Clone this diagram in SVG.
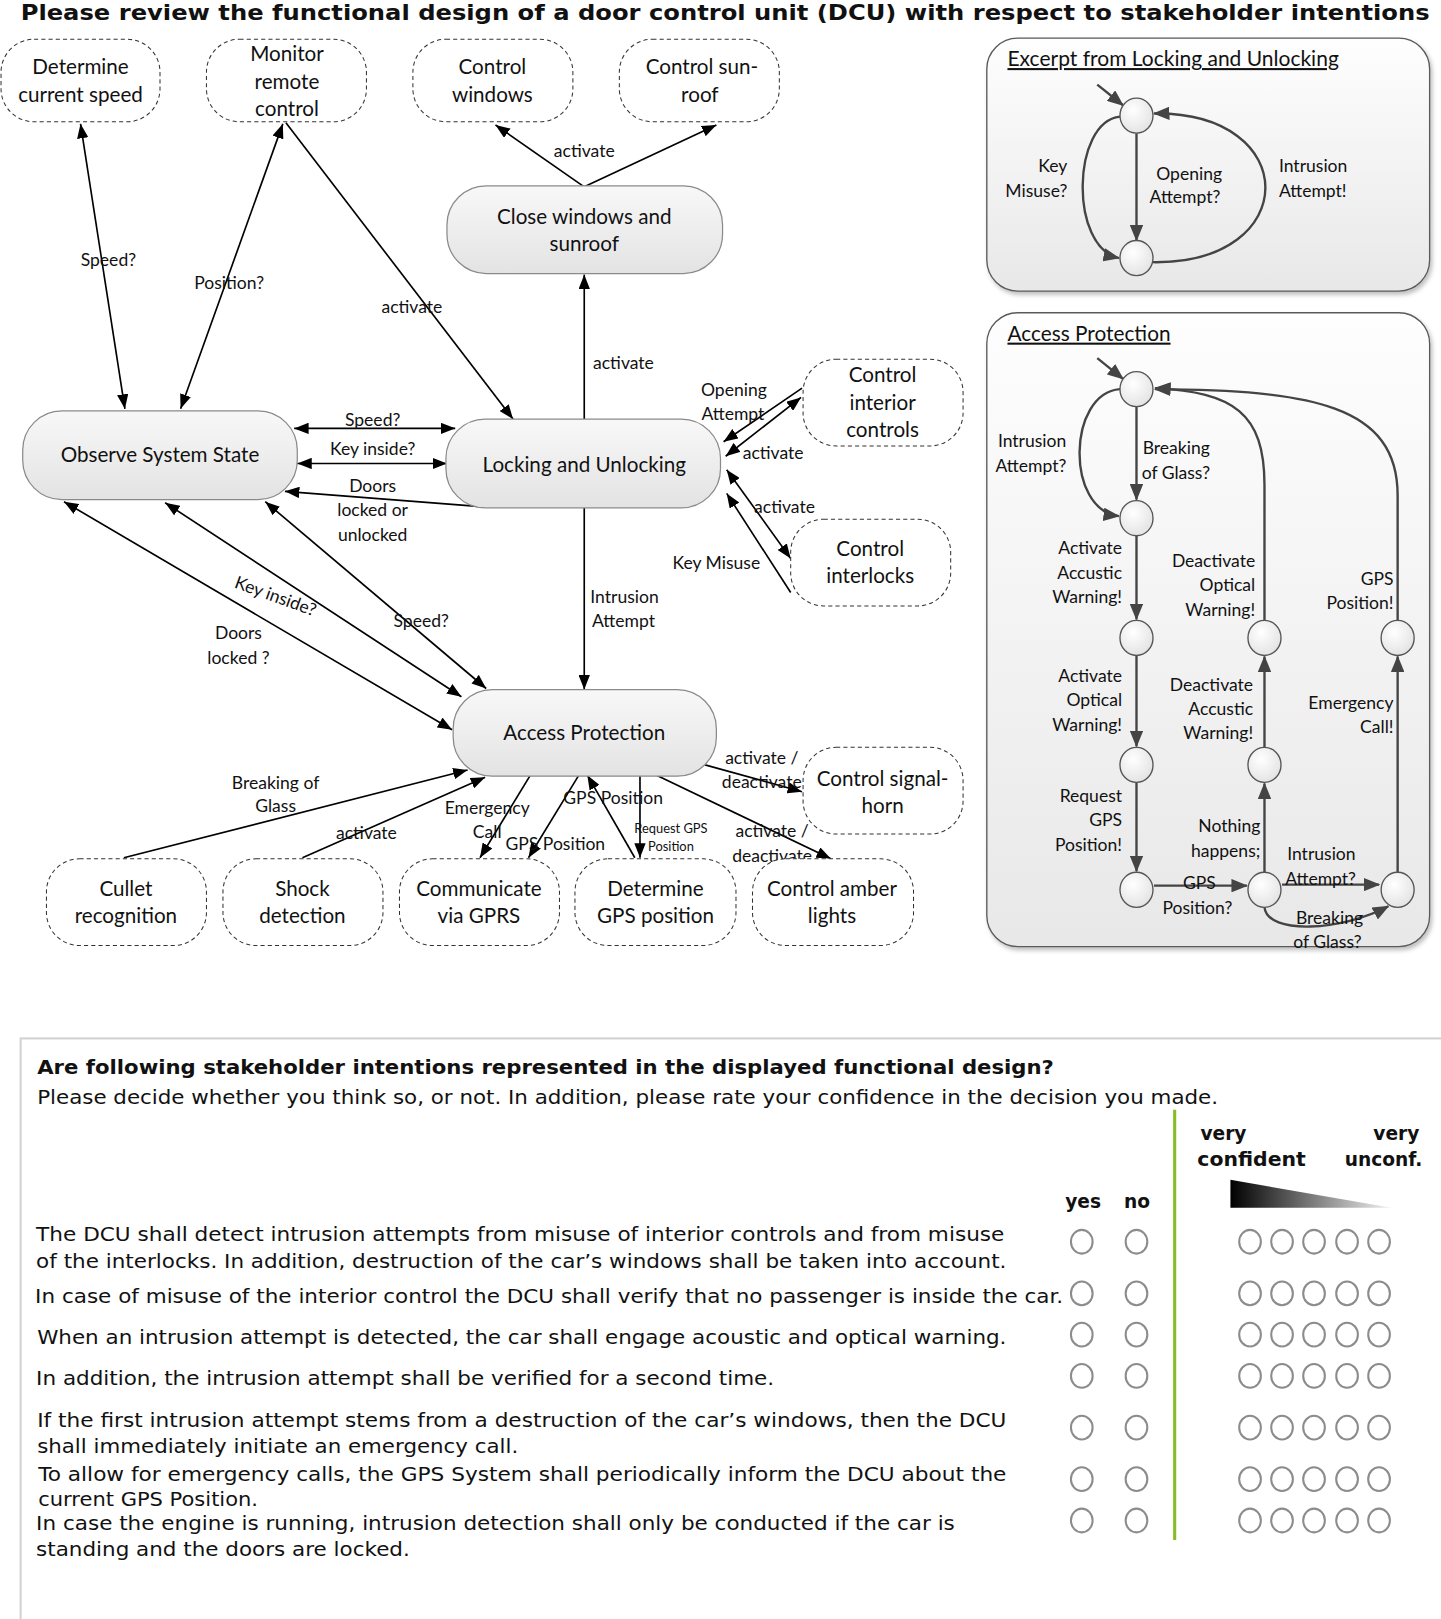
<svg xmlns="http://www.w3.org/2000/svg" width="1441" height="1619" viewBox="0 0 1441 1619">
<style>
.dn{fill:#fff;stroke:#333;stroke-width:1;stroke-dasharray:4 3}
.gn{fill:url(#gg);stroke:#8a8a8a;stroke-width:1.2}
.pn{fill:url(#pg);stroke:#5a5a5a;stroke-width:1.3}
.t{font-family:Lato,"Liberation Sans",sans-serif;font-size:20px;fill:#111;text-anchor:middle}
.l{font-family:Lato,"Liberation Sans",sans-serif;font-size:17px;fill:#111;text-anchor:middle}
.ls{font-family:Lato,"Liberation Sans",sans-serif;font-size:12.5px;fill:#111;text-anchor:middle}
.s{font-family:Lato,"Liberation Sans",sans-serif;font-size:17px;fill:#111}
.e{text-anchor:end}
.m{text-anchor:middle}
.pt{font-family:Lato,"Liberation Sans",sans-serif;font-size:20px;fill:#111;text-decoration:underline}
.c{stroke:#000;stroke-width:1.6;fill:none}
.cb{marker-start:url(#a);marker-end:url(#a)}
.ce{marker-end:url(#a)}
.sm{stroke:#444;stroke-width:2.3;fill:none;marker-end:url(#g)}
.st{fill:url(#sg);stroke:#555;stroke-width:1.3}
.q{font-family:"DejaVu Sans",Verdana,sans-serif;font-size:18px;fill:#111}
.qb{font-family:"DejaVu Sans",Verdana,sans-serif;font-size:18px;fill:#111;font-weight:bold}
.r{fill:#fff;stroke:#8c8c8c;stroke-width:2}
</style>
<defs>
<linearGradient id="gg" x1="0" y1="0" x2="0" y2="1"><stop offset="0" stop-color="#f8f8f8"/><stop offset="1" stop-color="#e3e3e3"/></linearGradient>
<linearGradient id="pg" x1="0" y1="0" x2="0" y2="1"><stop offset="0" stop-color="#fefefe"/><stop offset="1" stop-color="#e8e8e8"/></linearGradient>
<radialGradient id="sg" cx="0.4" cy="0.35" r="0.7"><stop offset="0" stop-color="#ffffff"/><stop offset="1" stop-color="#e2e2e2"/></radialGradient>
<linearGradient id="tri" x1="0" y1="0" x2="1" y2="0"><stop offset="0" stop-color="#000"/><stop offset="1" stop-color="#f2f2f2"/></linearGradient>
<filter id="sh" x="-5%" y="-5%" width="110%" height="110%"><feDropShadow dx="2" dy="3" stdDeviation="2" flood-color="#000" flood-opacity="0.25"/></filter>
<marker id="a" viewBox="0 0 14 11" refX="14" refY="5.5" markerWidth="14" markerHeight="11" markerUnits="userSpaceOnUse" orient="auto-start-reverse"><path d="M0,0 L14,5.5 L0,11 z" fill="#000"/></marker>
<marker id="g" viewBox="0 0 16 13" refX="15" refY="6.5" markerWidth="16" markerHeight="13" markerUnits="userSpaceOnUse" orient="auto"><path d="M0,0 L16,6.5 L0,13 z" fill="#444"/></marker>
</defs>
<rect width="1441" height="1619" fill="#fff"/>
<g transform="scale(1.03223)">
<text x="20" y="19" font-family="'DejaVu Sans',Verdana,sans-serif" font-weight="bold" font-size="21" fill="#111" textLength="1365" lengthAdjust="spacingAndGlyphs">Please review the functional design of a door control unit (DCU) with respect to stakeholder intentions</text>

<!-- connectors -->
<g id="connectors">
<path class="c cb" d="M78,120 L121,396"/>
<path class="c cb" d="M274,120 L175,396"/>
<path class="c ce" d="M277,119 L497,406"/>
<path class="c ce" d="M566,181 L480,121"/>
<path class="c ce" d="M566,181 L694,121"/>
<path class="c ce" d="M566,406 L566,266"/>
<path class="c cb" d="M285,415 L441,415"/>
<path class="c cb" d="M288,449 L433,449"/>
<path class="c ce" d="M469,491 L276,476"/>
<path class="c ce" d="M566,492 L566,668"/>
<path class="c ce" d="M777,376 L701,428"/>
<path class="c cb" d="M703,442 L776,385"/>
<path class="c cb" d="M704,455 L766,541"/>
<path class="c ce" d="M766,574 L704,478"/>
<path class="c cb" d="M62,486 L438,707"/>
<path class="c cb" d="M160,487 L447,675"/>
<path class="c cb" d="M257,486 L471,667"/>
<path class="c ce" d="M120,831 L453,746"/>
<path class="c ce" d="M293,831 L470,753"/>
<path class="c ce" d="M515,749 L465,831"/>
<path class="c ce" d="M562,749 L512,831"/>
<path class="c ce" d="M615,831 L569,751"/>
<path class="c ce" d="M620,749 L620,831"/>
<path class="c ce" d="M683,741 L777,767"/>
<path class="c ce" d="M634,750 L805,832"/>
<text class="l" x="566" y="152">activate</text>
<text class="l" x="105" y="258">Speed?</text>
<text class="l" x="222" y="280">Position?</text>
<text class="l" x="399" y="303">activate</text>
<text class="l" x="604" y="357">activate</text>
<text class="l" x="711" y="384">Opening</text>
<text class="l" x="710" y="407">Attempt</text>
<text class="l" x="749" y="445">activate</text>
<text class="l" x="760" y="497">activate</text>
<text class="l" x="694" y="551">Key Misuse</text>
<text class="l" x="361" y="413">Speed?</text>
<text class="l" x="361" y="441">Key inside?</text>
<text class="l" x="361" y="477">Doors</text>
<text class="l" x="361" y="500">locked or</text>
<text class="l" x="361" y="524">unlocked</text>
<text class="l" x="605" y="584">Intrusion</text>
<text class="l" x="604" y="607">Attempt</text>
<text class="l" x="0" y="0" transform="translate(265,583) rotate(20)">Key inside?</text>
<text class="l" x="231" y="619">Doors</text>
<text class="l" x="231" y="643">locked ?</text>
<text class="l" x="408" y="607">Speed?</text>
<text class="l" x="738" y="740">activate /</text>
<text class="l" x="738" y="763">deactivate</text>
<text class="l" x="267" y="764">Breaking of</text>
<text class="l" x="267" y="787">Glass</text>
<text class="l" x="355" y="813">activate</text>
<text class="l" x="472" y="789">Emergency</text>
<text class="l" x="472" y="812">Call</text>
<text class="l" x="594" y="779">GPS Position</text>
<text class="l" x="538" y="823">GPS Position</text>
<text class="ls" x="650" y="807">Request GPS</text>
<text class="ls" x="650" y="824">Position</text>
<text class="l" x="748" y="811">activate /</text>
<text class="l" x="748" y="835">deactivate</text>
</g>

<!-- nodes -->
<g id="n_speed"><rect class="dn" x="1" y="38" width="154" height="80" rx="32"/><text class="t" x="78" y="72">Determine</text><text class="t" x="78" y="99">current speed</text></g>
<g id="n_remote"><rect class="dn" x="200" y="38" width="155" height="80" rx="32"/><text class="t" x="278" y="59">Monitor</text><text class="t" x="278" y="86">remote</text><text class="t" x="278" y="112">control</text></g>
<g id="n_windows"><rect class="dn" x="400" y="38" width="155" height="80" rx="32"/><text class="t" x="477" y="72">Control</text><text class="t" x="477" y="99">windows</text></g>
<g id="n_sunroof"><rect class="dn" x="600" y="38" width="155" height="80" rx="32"/><text class="t" x="680" y="72">Control sun-</text><text class="t" x="678" y="99">roof</text></g>
<g id="n_close"><rect class="gn" x="433" y="180" width="267" height="85" rx="38"/><text class="t" x="566" y="217">Close windows and</text><text class="t" x="566" y="243">sunroof</text></g>
<g id="n_observe"><rect class="gn" x="22" y="398" width="266" height="86" rx="38"/><text class="t" x="155" y="448">Observe System State</text></g>
<g id="n_locking"><rect class="gn" x="432" y="406" width="266" height="86" rx="38"/><text class="t" x="566" y="457">Locking and Unlocking</text></g>
<g id="n_interior"><rect class="dn" x="778" y="348" width="155" height="84" rx="32"/><text class="t" x="855" y="370">Control</text><text class="t" x="855" y="397">interior</text><text class="t" x="855" y="423">controls</text></g>
<g id="n_interlocks"><rect class="dn" x="766" y="503" width="155" height="84" rx="32"/><text class="t" x="843" y="539">Control</text><text class="t" x="843" y="565">interlocks</text></g>
<g id="n_access"><rect class="gn" x="439" y="668" width="255" height="84" rx="38"/><text class="t" x="566" y="717">Access Protection</text></g>
<g id="n_horn"><rect class="dn" x="778" y="724" width="155" height="84" rx="32"/><text class="t" x="855" y="761">Control signal-</text><text class="t" x="855" y="788">horn</text></g>
<g id="n_cullet"><rect class="dn" x="45" y="832" width="155" height="84" rx="32"/><text class="t" x="122" y="868">Cullet</text><text class="t" x="122" y="894">recognition</text></g>
<g id="n_shock"><rect class="dn" x="216" y="832" width="155" height="84" rx="32"/><text class="t" x="293" y="868">Shock</text><text class="t" x="293" y="894">detection</text></g>
<g id="n_gprs"><rect class="dn" x="387" y="832" width="155" height="84" rx="32"/><text class="t" x="464" y="868">Communicate</text><text class="t" x="464" y="894">via GPRS</text></g>
<g id="n_gps"><rect class="dn" x="557" y="832" width="156" height="84" rx="32"/><text class="t" x="635" y="868">Determine</text><text class="t" x="635" y="894">GPS position</text></g>
<g id="n_amber"><rect class="dn" x="729" y="832" width="156" height="84" rx="32"/><text class="t" x="806" y="868">Control amber</text><text class="t" x="806" y="894">lights</text></g>

<!-- excerpt panel -->
<g id="panel_locking">
<rect class="pn" x="956" y="37" width="429" height="245" rx="30" filter="url(#sh)"/>
<text class="pt" x="976" y="64" textLength="321" lengthAdjust="spacingAndGlyphs">Excerpt from Locking and Unlocking</text>
<path class="sm" d="M1063,82 L1088,102"/>
<path class="sm" d="M1101,129 L1101,233"/>
<path class="sm" d="M1085,113 C1038,118 1036,240 1084,250"/>
<path class="sm" d="M1117,254 C1262,256 1262,108 1118,110"/>
<ellipse class="st" cx="1101" cy="112" rx="16" ry="17"/>
<ellipse class="st" cx="1101" cy="250" rx="16" ry="17"/>
<text class="s e" x="1034" y="167">Key</text>
<text class="s e" x="1034" y="191">Misuse?</text>
<text class="s m" x="1152" y="174">Opening</text>
<text class="s m" x="1148" y="197">Attempt?</text>
<text class="s" x="1239" y="167">Intrusion</text>
<text class="s" x="1239" y="191">Attempt!</text>
</g>

<!-- access protection panel -->
<g id="panel_access">
<rect class="pn" x="956" y="303" width="429" height="614" rx="30" filter="url(#sh)"/>
<text class="pt" x="976" y="330" textLength="158" lengthAdjust="spacingAndGlyphs">Access Protection</text>
<path class="sm" d="M1063,347 L1088,367"/>
<path class="sm" d="M1101,394 L1101,484"/>
<path class="sm" d="M1085,377 C1034,381 1032,494 1084,500"/>
<path class="sm" d="M1101,519 L1101,600"/>
<path class="sm" d="M1101,635 L1101,723"/>
<path class="sm" d="M1101,758 L1101,844"/>
<path class="sm" d="M1118,858 L1208,858"/>
<path class="sm" d="M1225,845 L1225,759"/>
<path class="sm" d="M1225,724 L1225,636"/>
<path class="sm" d="M1225,601 L1225,470 C1225,400 1195,380 1119,376"/>
<path class="sm" d="M1354,601 L1354,480 C1354,392 1270,378 1119,377"/>
<path class="sm" d="M1242,857 L1336,857"/>
<path class="sm" d="M1225,879 C1228,906 1300,902 1345,878"/>
<path class="sm" d="M1354,845 L1354,636"/>
<ellipse class="st" cx="1101" cy="377" rx="16" ry="17"/>
<ellipse class="st" cx="1101" cy="502" rx="16" ry="17"/>
<ellipse class="st" cx="1101" cy="618" rx="16" ry="17"/>
<ellipse class="st" cx="1101" cy="741" rx="16" ry="17"/>
<ellipse class="st" cx="1101" cy="862" rx="16" ry="17"/>
<ellipse class="st" cx="1225" cy="862" rx="16" ry="17"/>
<ellipse class="st" cx="1225" cy="741" rx="16" ry="17"/>
<ellipse class="st" cx="1225" cy="618" rx="16" ry="17"/>
<ellipse class="st" cx="1354" cy="862" rx="16" ry="17"/>
<ellipse class="st" cx="1354" cy="618" rx="16" ry="17"/>
<text class="s e" x="1033" y="433">Intrusion</text>
<text class="s e" x="1033" y="457">Attempt?</text>
<text class="s" x="1107" y="440">Breaking</text>
<text class="s" x="1106" y="464">of Glass?</text>
<text class="s e" x="1087" y="537">Activate</text>
<text class="s e" x="1087" y="561">Accustic</text>
<text class="s e" x="1087" y="584">Warning!</text>
<text class="s e" x="1216" y="549">Deactivate</text>
<text class="s e" x="1216" y="573">Optical</text>
<text class="s e" x="1216" y="597">Warning!</text>
<text class="s e" x="1350" y="567">GPS</text>
<text class="s e" x="1350" y="590">Position!</text>
<text class="s e" x="1087" y="661">Activate</text>
<text class="s e" x="1087" y="684">Optical</text>
<text class="s e" x="1087" y="708">Warning!</text>
<text class="s e" x="1214" y="669">Deactivate</text>
<text class="s e" x="1214" y="693">Accustic</text>
<text class="s e" x="1214" y="716">Warning!</text>
<text class="s e" x="1350" y="687">Emergency</text>
<text class="s e" x="1350" y="710">Call!</text>
<text class="s e" x="1087" y="777">Request</text>
<text class="s e" x="1087" y="800">GPS</text>
<text class="s e" x="1087" y="824">Position!</text>
<text class="s e" x="1221" y="806">Nothing</text>
<text class="s e" x="1221" y="830">happens;</text>
<text class="s" x="1247" y="833">Intrusion</text>
<text class="s" x="1245" y="857">Attempt?</text>
<text class="s m" x="1162" y="861">GPS</text>
<text class="s m" x="1160" y="885">Position?</text>
<text class="s m" x="1288" y="895">Breaking</text>
<text class="s m" x="1286" y="918">of Glass?</text>
</g>

<!-- questionnaire -->
<g id="questionnaire">
<rect x="20" y="1006" width="1390" height="570" fill="#fff" stroke="#d2d2d2" stroke-width="2"/>
<text class="qb" x="36" y="1040" textLength="985" lengthAdjust="spacingAndGlyphs">Are following stakeholder intentions represented in the displayed functional design?</text>
<text class="q" x="36" y="1070" textLength="1144" lengthAdjust="spacingAndGlyphs">Please decide whether you think so, or not. In addition, please rate your confidence in the decision you made.</text>
<line x1="1138" y1="1075" x2="1138" y2="1492" stroke="#86bc25" stroke-width="3"/>
<text class="qb" x="1163" y="1104">very</text>
<text class="qb" x="1375" y="1104" text-anchor="end">very</text>
<text class="qb" x="1160" y="1130" textLength="105" lengthAdjust="spacingAndGlyphs">confident</text>
<text class="qb" x="1378" y="1130" text-anchor="end">unconf.</text>
<polygon points="1192,1143 1192,1170 1348,1170" fill="url(#tri)"/>
<text class="qb" x="1032" y="1170">yes</text>
<text class="qb" x="1089" y="1170">no</text>
<text class="q" x="35" y="1202" textLength="938" lengthAdjust="spacingAndGlyphs">The DCU shall detect intrusion attempts from misuse of interior controls and from misuse</text>
<text class="q" x="35" y="1228" textLength="940" lengthAdjust="spacingAndGlyphs">of the interlocks. In addition, destruction of the car’s windows shall be taken into account.</text>
<text class="q" x="34" y="1262" textLength="996" lengthAdjust="spacingAndGlyphs">In case of misuse of the interior control the DCU shall verify that no passenger is inside the car.</text>
<text class="q" x="36" y="1302" textLength="939" lengthAdjust="spacingAndGlyphs">When an intrusion attempt is detected, the car shall engage acoustic and optical warning.</text>
<text class="q" x="35" y="1342" textLength="715" lengthAdjust="spacingAndGlyphs">In addition, the intrusion attempt shall be verified for a second time.</text>
<text class="q" x="36" y="1382" textLength="939" lengthAdjust="spacingAndGlyphs">If the first intrusion attempt stems from a destruction of the car’s windows, then the DCU</text>
<text class="q" x="36" y="1408" textLength="466" lengthAdjust="spacingAndGlyphs">shall immediately initiate an emergency call.</text>
<text class="q" x="37" y="1435" textLength="938" lengthAdjust="spacingAndGlyphs">To allow for emergency calls, the GPS System shall periodically inform the DCU about the</text>
<text class="q" x="37" y="1459" textLength="213" lengthAdjust="spacingAndGlyphs">current GPS Position.</text>
<text class="q" x="35" y="1482" textLength="890" lengthAdjust="spacingAndGlyphs">In case the engine is running, intrusion detection shall only be conducted if the car is</text>
<text class="q" x="35" y="1507" textLength="362" lengthAdjust="spacingAndGlyphs">standing and the doors are locked.</text>
<g id="radios">
<g transform="translate(0,1203)"><ellipse class="r" cx="1048" cy="0" rx="10.5" ry="11.5"/><ellipse class="r" cx="1101" cy="0" rx="10.5" ry="11.5"/><ellipse class="r" cx="1211" cy="0" rx="10.5" ry="11.5"/><ellipse class="r" cx="1242" cy="0" rx="10.5" ry="11.5"/><ellipse class="r" cx="1273" cy="0" rx="10.5" ry="11.5"/><ellipse class="r" cx="1305" cy="0" rx="10.5" ry="11.5"/><ellipse class="r" cx="1336" cy="0" rx="10.5" ry="11.5"/></g>
<g transform="translate(0,1253)"><ellipse class="r" cx="1048" cy="0" rx="10.5" ry="11.5"/><ellipse class="r" cx="1101" cy="0" rx="10.5" ry="11.5"/><ellipse class="r" cx="1211" cy="0" rx="10.5" ry="11.5"/><ellipse class="r" cx="1242" cy="0" rx="10.5" ry="11.5"/><ellipse class="r" cx="1273" cy="0" rx="10.5" ry="11.5"/><ellipse class="r" cx="1305" cy="0" rx="10.5" ry="11.5"/><ellipse class="r" cx="1336" cy="0" rx="10.5" ry="11.5"/></g>
<g transform="translate(0,1293)"><ellipse class="r" cx="1048" cy="0" rx="10.5" ry="11.5"/><ellipse class="r" cx="1101" cy="0" rx="10.5" ry="11.5"/><ellipse class="r" cx="1211" cy="0" rx="10.5" ry="11.5"/><ellipse class="r" cx="1242" cy="0" rx="10.5" ry="11.5"/><ellipse class="r" cx="1273" cy="0" rx="10.5" ry="11.5"/><ellipse class="r" cx="1305" cy="0" rx="10.5" ry="11.5"/><ellipse class="r" cx="1336" cy="0" rx="10.5" ry="11.5"/></g>
<g transform="translate(0,1333)"><ellipse class="r" cx="1048" cy="0" rx="10.5" ry="11.5"/><ellipse class="r" cx="1101" cy="0" rx="10.5" ry="11.5"/><ellipse class="r" cx="1211" cy="0" rx="10.5" ry="11.5"/><ellipse class="r" cx="1242" cy="0" rx="10.5" ry="11.5"/><ellipse class="r" cx="1273" cy="0" rx="10.5" ry="11.5"/><ellipse class="r" cx="1305" cy="0" rx="10.5" ry="11.5"/><ellipse class="r" cx="1336" cy="0" rx="10.5" ry="11.5"/></g>
<g transform="translate(0,1383)"><ellipse class="r" cx="1048" cy="0" rx="10.5" ry="11.5"/><ellipse class="r" cx="1101" cy="0" rx="10.5" ry="11.5"/><ellipse class="r" cx="1211" cy="0" rx="10.5" ry="11.5"/><ellipse class="r" cx="1242" cy="0" rx="10.5" ry="11.5"/><ellipse class="r" cx="1273" cy="0" rx="10.5" ry="11.5"/><ellipse class="r" cx="1305" cy="0" rx="10.5" ry="11.5"/><ellipse class="r" cx="1336" cy="0" rx="10.5" ry="11.5"/></g>
<g transform="translate(0,1433)"><ellipse class="r" cx="1048" cy="0" rx="10.5" ry="11.5"/><ellipse class="r" cx="1101" cy="0" rx="10.5" ry="11.5"/><ellipse class="r" cx="1211" cy="0" rx="10.5" ry="11.5"/><ellipse class="r" cx="1242" cy="0" rx="10.5" ry="11.5"/><ellipse class="r" cx="1273" cy="0" rx="10.5" ry="11.5"/><ellipse class="r" cx="1305" cy="0" rx="10.5" ry="11.5"/><ellipse class="r" cx="1336" cy="0" rx="10.5" ry="11.5"/></g>
<g transform="translate(0,1473)"><ellipse class="r" cx="1048" cy="0" rx="10.5" ry="11.5"/><ellipse class="r" cx="1101" cy="0" rx="10.5" ry="11.5"/><ellipse class="r" cx="1211" cy="0" rx="10.5" ry="11.5"/><ellipse class="r" cx="1242" cy="0" rx="10.5" ry="11.5"/><ellipse class="r" cx="1273" cy="0" rx="10.5" ry="11.5"/><ellipse class="r" cx="1305" cy="0" rx="10.5" ry="11.5"/><ellipse class="r" cx="1336" cy="0" rx="10.5" ry="11.5"/></g>
</g>
</g>
</g>
</svg>
